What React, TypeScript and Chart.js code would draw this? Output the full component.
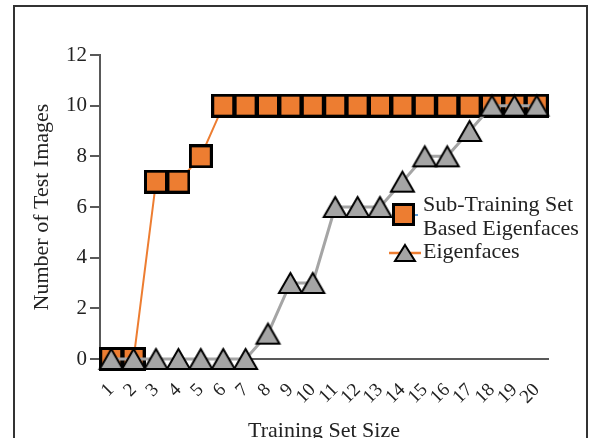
import React, { useEffect, useRef } from 'react';
import { Chart, registerables } from 'chart.js';

Chart.register(...registerables);

// ---- data ----
const categories = ['1', '2', '3', '4', '5', '6', '7', '8', '9', '10', '11', '12', '13', '14', '15', '16', '17', '18', '19', '20'];
const subTrainingEigenfaces = [0, 0, 7, 7, 8, 10, 10, 10, 10, 10, 10, 10, 10, 10, 10, 10, 10, 10, 10, 10];
const eigenfaces = [0, 0, 0, 0, 0, 0, 0, 1, 3, 3, 6, 6, 6, 7, 8, 8, 9, 10, 10, 10];
const yMin = 0;
const yMax = 12;
const yStep = 2;
const seriesNames = ['Sub-Training Set Based Eigenfaces', 'Eigenfaces'];
const legendLines = [['Sub-Training Set', 'Based Eigenfaces'], ['Eigenfaces']];
const xTitle = 'Training Set Size';
const yTitle = 'Number of Test Images';

// ---- styles ----
const ORANGE = '#ED7D31';
const GRAY = '#A5A5A5';
const AXIS = '#595959';
const TEXT = '#222222';
const FONT = 'Liberation Serif';

function makeSquare(size: number, lw: number) {
  const c = document.createElement('canvas');
  c.width = size;
  c.height = size;
  const ctx = c.getContext('2d')!;
  ctx.fillStyle = ORANGE;
  ctx.strokeStyle = '#000';
  ctx.lineWidth = lw;
  ctx.beginPath();
  ctx.rect(lw / 2, lw / 2, size - lw, size - lw);
  ctx.fill();
  ctx.stroke();
  return c;
}

function makeTriangle(w: number, h: number, lw: number) {
  const pad = 4;
  const c = document.createElement('canvas');
  c.width = w + pad * 2;
  c.height = h + pad * 2;
  const ctx = c.getContext('2d')!;
  ctx.fillStyle = GRAY;
  ctx.strokeStyle = '#000';
  ctx.lineWidth = lw;
  ctx.lineJoin = 'miter';
  ctx.beginPath();
  ctx.moveTo(pad + w / 2, pad);
  ctx.lineTo(pad + w, pad + h);
  ctx.lineTo(pad, pad + h);
  ctx.closePath();
  ctx.fill();
  ctx.stroke();
  return c;
}

export default function App() {
  const ref = useRef<HTMLCanvasElement | null>(null);

  useEffect(() => {
    document.body.style.margin = '0';
    const canvas = ref.current!;
    const square = makeSquare(24, 3);
    const tri = makeTriangle(23, 20, 2);
    const legSquare = makeSquare(23, 3);
    const legTri = makeTriangle(20, 16, 2);

    const legendPlugin = {
      id: 'customLegend',
      afterDatasetsDraw(chart: any) {
        const ctx = chart.ctx as CanvasRenderingContext2D;
        ctx.save();
        // entry 1
        ctx.strokeStyle = '#5B9BD5';
        ctx.lineWidth = 2;
        ctx.beginPath();
        ctx.moveTo(412, 215);
        ctx.lineTo(418, 215);
        ctx.stroke();
        ctx.drawImage(legSquare, 392, 203);
        // entry 2
        ctx.strokeStyle = ORANGE;
        ctx.lineWidth = 2.5;
        ctx.beginPath();
        ctx.moveTo(389, 253);
        ctx.lineTo(421, 253);
        ctx.stroke();
        ctx.drawImage(legTri, 405 - legTri.width / 2, 253 - legTri.height / 2);
        ctx.fillStyle = TEXT;
        ctx.font = `22px "${FONT}"`;
        ctx.textBaseline = 'alphabetic';
        ctx.textAlign = 'left';
        ctx.fillText(legendLines[0][0], 423, 211);
        ctx.fillText(legendLines[0][1], 423, 235);
        ctx.fillText(legendLines[1][0], 423, 258);
        ctx.restore();
      },
    };

    const chart = new Chart(canvas, {
      type: 'line',
      data: {
        labels: categories,
        datasets: [
          {
            label: seriesNames[0],
            data: subTrainingEigenfaces,
            borderColor: ORANGE,
            backgroundColor: ORANGE,
            borderWidth: 2,
            pointStyle: square as any,
            pointRadius: 12,
            tension: 0,
            clip: false as any,
            order: 1,
          },
          {
            label: seriesNames[1],
            data: eigenfaces,
            borderColor: GRAY,
            backgroundColor: GRAY,
            borderWidth: 3,
            pointStyle: tri as any,
            pointRadius: 12,
            tension: 0,
            clip: false as any,
            order: 0,
          },
        ],
      },
      options: {
        responsive: false,
        animation: false,
        layout: { padding: { top: 55, right: 45, left: 0, bottom: 0 } },
        plugins: { legend: { display: false }, tooltip: { enabled: false } },
        scales: {
          x: {
            type: 'category',
            offset: true,
            grid: { display: false, drawTicks: false },
            border: { display: true, color: AXIS, width: 2 },
            ticks: {
              autoSkip: false,
              maxRotation: 45,
              minRotation: 45,
              padding: 20,
              color: TEXT,
              font: { family: FONT, size: 19 },
            },
            title: {
              display: true,
              text: xTitle,
              color: TEXT,
              font: { family: FONT, size: 22 },
              padding: { top: 0, bottom: 26 },
            },
            afterFit: (s: any) => {
              s.height = 111;
            },
          },
          y: {
            min: yMin,
            max: yMax,
            ticks: {
              stepSize: yStep,
              padding: 3,
              color: TEXT,
              font: { family: FONT, size: 21 },
            },
            grid: { drawOnChartArea: false, drawTicks: true, tickLength: 10, color: AXIS, lineWidth: 2 },
            border: { display: true, color: AXIS, width: 2 },
            title: {
              display: true,
              text: yTitle,
              color: TEXT,
              font: { family: FONT, size: 22 },
              padding: { top: 29, bottom: 0 },
            },
            afterFit: (s: any) => {
              s.width = 100;
            },
          },
        },
      },
      plugins: [legendPlugin],
    });
    return () => chart.destroy();
  }, []);

  return (
    <div style={{ position: 'relative', width: 593, height: 438, overflow: 'hidden', background: '#fff' }}>
      <canvas ref={ref} width={593} height={470} style={{ display: 'block' }} />
      <div
        style={{
          position: 'absolute',
          left: 13,
          top: 5,
          width: 571,
          height: 500,
          border: '2px solid #333',
          pointerEvents: 'none',
        }}
      />
    </div>
  );
}
